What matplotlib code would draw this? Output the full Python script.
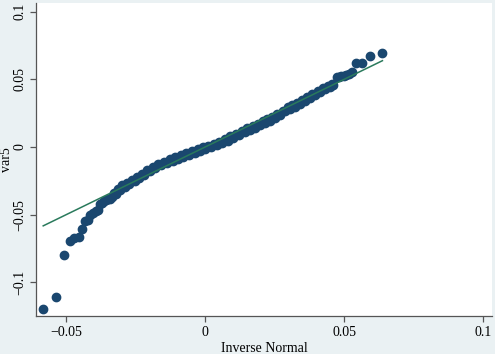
import numpy as np
import matplotlib.pyplot as plt

plt.rcParams['font.family'] = ['Liberation Serif', 'DejaVu Serif']

# inverse normal quantiles (x) and sorted var5 values (y)
inv_normal = [
    -0.0582, -0.0536, -0.0506, -0.0486, -0.0470, -0.0454, -0.0442, -0.0431,
    -0.0422, -0.0413, -0.0402, -0.0392, -0.0384, -0.0378, -0.0370, -0.0362,
    -0.0356, -0.0350, -0.0343, -0.0336,
    -0.0328, -0.0320, -0.0312, -0.0305, -0.0297, -0.0289, -0.0281, -0.0272,
    -0.0262, -0.0252, -0.0244, -0.0236, -0.0227, -0.0218, -0.0208, -0.0198,
    -0.0188, -0.0179, -0.0169, -0.0158, -0.0148, -0.0137, -0.0127, -0.0117,
    -0.0108, -0.0098, -0.0088, -0.0079, -0.0068, -0.0057, -0.0047, -0.0037,
    -0.0027, -0.0018, -0.0008, 0.0001, 0.0011, 0.0022, 0.0032, 0.0043,
    0.0052, 0.0062, 0.0072, 0.0082, 0.0091, 0.0101, 0.0111, 0.0122,
    0.0133, 0.0143, 0.0152, 0.0162, 0.0172, 0.0181, 0.0191, 0.0199,
    0.0208, 0.0216, 0.0224, 0.0233, 0.0241, 0.0250, 0.0260, 0.0270,
    0.0279, 0.0288, 0.0297, 0.0306, 0.0314, 0.0322, 0.0331, 0.0340,
    0.0349, 0.0358, 0.0367, 0.0377, 0.0386, 0.0396, 0.0405, 0.0414,
    0.0424, 0.0433, 0.0441, 0.0450, 0.0456, 0.0462,
    0.0474, 0.0482, 0.0490, 0.0498, 0.0506, 0.0516, 0.0528,
    0.0543, 0.0564, 0.0594, 0.0638,
]
var5 = [
    -0.1194, -0.1110, -0.0798, -0.0692, -0.0675, -0.0667, -0.0603, -0.0544,
    -0.0539, -0.0502, -0.0485, -0.0475, -0.0462, -0.0420, -0.0410, -0.0399,
    -0.0390, -0.0386, -0.0380, -0.0370,
    -0.0340, -0.0348, -0.0312, -0.0315, -0.0282, -0.0292, -0.0262, -0.0272,
    -0.0240, -0.0248, -0.0218, -0.0230, -0.0198, -0.0205, -0.0170, -0.0178,
    -0.0146, -0.0155, -0.0124, -0.0136, -0.0108, -0.0120, -0.0091, -0.0103,
    -0.0075, -0.0088, -0.0060, -0.0073, -0.0045, -0.0058, -0.0031, -0.0044,
    -0.0017, -0.0031, -0.0003, -0.0016, 0.0010, -0.0002, 0.0025, 0.0012,
    0.0040, 0.0029, 0.0058, 0.0048, 0.0078, 0.0068, 0.0099, 0.0090,
    0.0121, 0.0110, 0.0138, 0.0127, 0.0155, 0.0143, 0.0172, 0.0161,
    0.0190, 0.0178, 0.0207, 0.0195, 0.0224, 0.0214, 0.0245, 0.0237,
    0.0270, 0.0264, 0.0295, 0.0282, 0.0310, 0.0297, 0.0324, 0.0315,
    0.0346, 0.0337, 0.0368, 0.0360, 0.0391, 0.0381, 0.0412, 0.0404,
    0.0438, 0.0426, 0.0451, 0.0441, 0.0464, 0.0460,
    0.0515, 0.0520, 0.0524, 0.0528, 0.0532, 0.0540, 0.0556,
    0.0623, 0.0623, 0.0672, 0.0696,
]

xticks = [-0.05, 0, 0.05, 0.1]
yticks = [-0.1, -0.05, 0, 0.05, 0.1]
tick_labels_x = ['\u22120.05', '0', '0.05', '0.1']
tick_labels_y = ['\u22120.1', '\u22120.05', '0', '0.05', '0.1']

fig = plt.figure(figsize=(4.95, 3.54), dpi=100)
fig.patch.set_facecolor('#eaf1f3')
ax = fig.add_axes([0.0727, 0.1073, 0.9212, 0.8842])
ax.set_facecolor('white')

ax.plot(inv_normal, var5, 'o', color='#1a476f', ms=6, mec='#1a476f', zorder=2)
lo, hi = min(inv_normal), max(inv_normal)
ax.plot([lo, hi], [lo, hi], color='#2a7a5c', lw=1.1, zorder=3)

ax.set_xlim(-0.0608, 0.1032)
ax.set_ylim(-0.1248, 0.1064)
ax.set_xticks(xticks)
ax.set_xticklabels(tick_labels_x)
ax.set_yticks(yticks)
ax.set_yticklabels(tick_labels_y, rotation=90, va='center')

for s in ['top', 'right']:
    ax.spines[s].set_visible(False)
for s in ['left', 'bottom']:
    ax.spines[s].set_color('#555555')
    ax.spines[s].set_linewidth(0.9)
ax.tick_params(direction='out', length=4, width=0.9, color='#555555',
               labelsize=10, pad=3)

ax.set_xlabel('Inverse Normal', fontsize=10, labelpad=2)
ax.set_ylabel('var5', fontsize=10)
ax.yaxis.set_label_coords(-0.05, 0.5)

fig.savefig('out.png', dpi=100, facecolor=fig.get_facecolor())
